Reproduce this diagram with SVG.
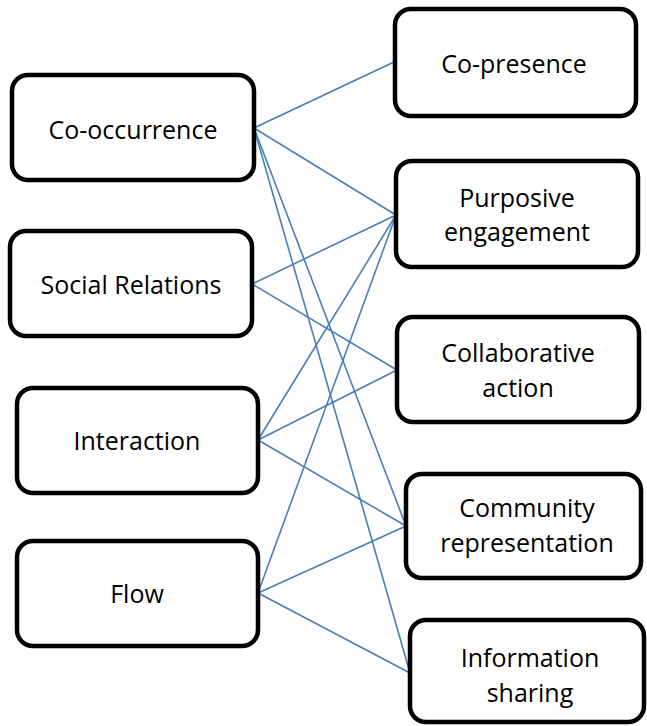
<svg xmlns="http://www.w3.org/2000/svg" width="647" height="726" viewBox="0 0 647 726">
<style>
.box{fill:#fff;stroke:#000;stroke-width:4.5}
.lbl{font-family:"Open Sans","Noto Sans","Liberation Sans",sans-serif;font-size:25px;fill:#000;text-anchor:middle}
.edge{stroke:#4a7ebb;stroke-width:1.6;fill:none}
</style>
<rect width="647" height="726" fill="#fff"/>
<g id="connectors">
<line class="edge" x1="254" y1="128" x2="394" y2="62"/>
<line class="edge" x1="254" y1="128" x2="396" y2="215"/>
<line class="edge" x1="254" y1="128" x2="406" y2="526"/>
<line class="edge" x1="254" y1="128" x2="410" y2="673"/>
<line class="edge" x1="252" y1="284" x2="396" y2="215"/>
<line class="edge" x1="252" y1="284" x2="397" y2="370"/>
<line class="edge" x1="258" y1="440" x2="396" y2="215"/>
<line class="edge" x1="258" y1="440" x2="397" y2="370"/>
<line class="edge" x1="258" y1="440" x2="406" y2="526"/>
<line class="edge" x1="258" y1="593" x2="396" y2="215"/>
<line class="edge" x1="258" y1="593" x2="406" y2="526"/>
<line class="edge" x1="258" y1="593" x2="410" y2="673"/>
</g>
<g id="co-occurrence">
<rect class="box" x="12" y="75" width="242" height="105" rx="16"/>
<text class="lbl" x="133" y="139">Co-occurrence</text>
</g>
<g id="social-relations">
<rect class="box" x="10" y="231" width="242" height="105" rx="16"/>
<text class="lbl" x="131" y="294">Social Relations</text>
</g>
<g id="interaction">
<rect class="box" x="17" y="388" width="241" height="105" rx="16"/>
<text class="lbl" x="137" y="450">Interaction</text>
</g>
<g id="flow">
<rect class="box" x="17" y="541" width="241" height="105" rx="16"/>
<text class="lbl" x="137" y="603">Flow</text>
</g>
<g id="co-presence">
<rect class="box" x="395" y="9" width="241" height="107" rx="16"/>
<text class="lbl" x="514" y="73">Co-presence</text>
</g>
<g id="purposive-engagement">
<rect class="box" x="396" y="161" width="242" height="106" rx="16"/>
<text class="lbl" x="517" y="207">Purposive</text>
<text class="lbl" x="517" y="241">engagement</text>
</g>
<g id="collaborative-action">
<rect class="box" x="397" y="317" width="242" height="105" rx="16"/>
<text class="lbl" x="518" y="362">Collaborative</text>
<text class="lbl" x="518" y="397">action</text>
</g>
<g id="community-representation">
<rect class="box" x="406" y="474" width="235" height="104" rx="16"/>
<text class="lbl" x="527" y="517">Community</text>
<text class="lbl" x="527" y="552">representation</text>
</g>
<g id="information-sharing">
<rect class="box" x="410" y="620" width="234" height="102" rx="16"/>
<text class="lbl" x="530" y="667">Information</text>
<text class="lbl" x="530" y="702">sharing</text>
</g>
</svg>
